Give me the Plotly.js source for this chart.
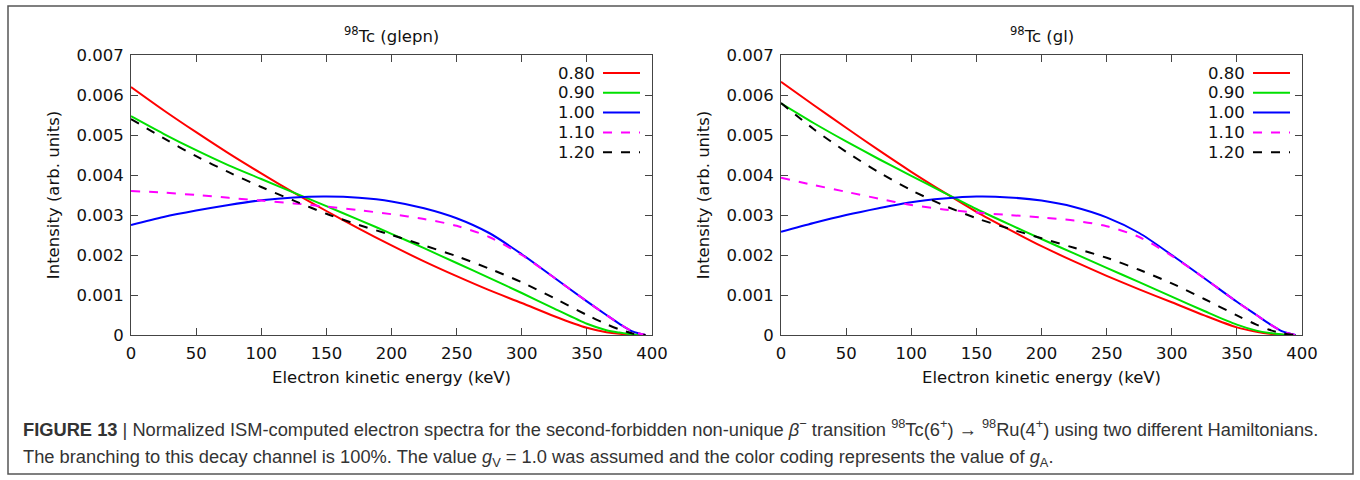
<!DOCTYPE html>
<html>
<head>
<meta charset="utf-8">
<script src="https://cdn.plot.ly/plotly-3.0.1.min.js"></script>
<style>
html,body{margin:0;padding:0;background:#fff;}
#chart{width:1360px;height:480px;}
</style>
</head>
<body>
<div id="chart"></div>
<script>
// ---------------- DATA ----------------
const energy = [0, 25, 50, 75, 100, 125, 150, 175, 200, 225, 250, 275, 300, 325, 350, 365, 375, 385, 395];
const gALabels = ['0.80', '0.90', '1.00', '1.10', '1.20'];

// 98Tc (glepn)
const glepn_080 = [0.00620, 0.00562, 0.00507, 0.00454, 0.00404, 0.00356, 0.00310, 0.00266, 0.00224, 0.00184, 0.00147, 0.00112, 0.00080, 0.00047, 0.00018, 0.00007, 0.00003, 0.000008, 0];
const glepn_090 = [0.00547, 0.00503, 0.00462, 0.00424, 0.00390, 0.00356, 0.00322, 0.00288, 0.00253, 0.00217, 0.00180, 0.00143, 0.00105, 0.00066, 0.00028, 0.00012, 0.00006, 0.000015, 0];
const glepn_100 = [0.00275, 0.00295, 0.00311, 0.00325, 0.00337, 0.00344, 0.00346, 0.00343, 0.00334, 0.00317, 0.00292, 0.00255, 0.00202, 0.00143, 0.00084, 0.00050, 0.00028, 0.00009, 0];
const glepn_110 = [0.00360, 0.00356, 0.00350, 0.00343, 0.00336, 0.00329, 0.00321, 0.00312, 0.00302, 0.00290, 0.00273, 0.00245, 0.00200, 0.00143, 0.00084, 0.00050, 0.00028, 0.00009, 0];
const glepn_120 = [0.00540, 0.00492, 0.00447, 0.00407, 0.00370, 0.00336, 0.00303, 0.00275, 0.00250, 0.00224, 0.00197, 0.00166, 0.00132, 0.00092, 0.00050, 0.00027, 0.00014, 0.00004, 0];

// 98Tc (gl)
const gl_080 = [0.00633, 0.00575, 0.00518, 0.00462, 0.00408, 0.00357, 0.00308, 0.00264, 0.00222, 0.00184, 0.00148, 0.00114, 0.00082, 0.00049, 0.00019, 0.00008, 0.00003, 0.000008, 0];
const gl_090 = [0.00579, 0.00530, 0.00484, 0.00440, 0.00398, 0.00356, 0.00315, 0.00277, 0.00240, 0.00204, 0.00168, 0.00132, 0.00096, 0.00060, 0.00026, 0.00011, 0.00005, 0.000013, 0];
const gl_100 = [0.00258, 0.00280, 0.00300, 0.00317, 0.00332, 0.00341, 0.00346, 0.00344, 0.00336, 0.00320, 0.00294, 0.00255, 0.00200, 0.00142, 0.00083, 0.00050, 0.00028, 0.00009, 0];
const gl_110 = [0.00393, 0.00375, 0.00358, 0.00341, 0.00325, 0.00314, 0.00306, 0.00300, 0.00294, 0.00286, 0.00272, 0.00245, 0.00198, 0.00142, 0.00083, 0.00050, 0.00028, 0.00009, 0];
const gl_120 = [0.00580, 0.00515, 0.00458, 0.00407, 0.00362, 0.00324, 0.00292, 0.00266, 0.00242, 0.00218, 0.00193, 0.00163, 0.00129, 0.00090, 0.00049, 0.00026, 0.00013, 0.00004, 0];

const panelTitles = ['<sup>98</sup>Tc (glepn)', '<sup>98</sup>Tc (gl)'];
const xTickVals = [0, 50, 100, 150, 200, 250, 300, 350, 400];
const yTickVals = [0, 0.001, 0.002, 0.003, 0.004, 0.005, 0.006, 0.007];
const yTickText = ['0', '0.001', '0.002', '0.003', '0.004', '0.005', '0.006', '0.007'];

// ---------------- STYLE ----------------
const colors = ['#ff0000', '#00e000', '#0000ff', '#ff00ff', '#000000'];
const dashes = ['solid', 'solid', 'solid', 'dash', 'dash'];
const W = 1360, H = 480;
const px = v => v / W;
const py = v => 1 - v / H;
const panels = [
  {series: [glepn_080, glepn_090, glepn_100, glepn_110, glepn_120], left: 131, right: 652, xa: 'x', ya: 'y'},
  {series: [gl_080, gl_090, gl_100, gl_110, gl_120], left: 781, right: 1302, xa: 'x2', ya: 'y2'}
];
const plotTop = 55, plotBottom = 335;
const tickFont = {family: 'DejaVu Sans, Verdana, sans-serif', size: 16.5, color: '#111'};

const traces = [];
panels.forEach((p, pi) => {
  p.series.forEach((s, i) => {
    traces.push({
      x: energy, y: s, type: 'scatter', mode: 'lines', name: gALabels[i],
      xaxis: p.xa, yaxis: p.ya, showlegend: false,
      line: {color: colors[i], width: 2, dash: dashes[i], shape: 'spline', smoothing: 0.8}
    });
  });
});

function xaxisCfg(p) {
  return {
    domain: [px(p.left), px(p.right)], range: [0, 400],
    tickvals: xTickVals, ticks: 'inside', ticklen: 7, tickcolor: '#444',
    showline: true, linecolor: '#444', linewidth: 1, mirror: 'ticks',
    showgrid: false, zeroline: false, tickfont: tickFont, ticklabelstandoff: 3,
    title: {text: 'Electron kinetic energy (keV)', font: tickFont, standoff: 9},
    fixedrange: true
  };
}
function yaxisCfg(p, anchor) {
  return {
    domain: [py(plotBottom), py(plotTop)], range: [0, 0.007], anchor: anchor,
    tickvals: yTickVals, ticktext: yTickText, ticks: 'inside', ticklen: 7, tickcolor: '#444',
    showline: true, linecolor: '#444', linewidth: 1, mirror: 'ticks',
    showgrid: false, zeroline: false, tickfont: tickFont, ticklabelstandoff: 3,
    title: {text: 'Intensity (arb. units)', font: tickFont, standoff: 12},
    fixedrange: true
  };
}

const annotations = [];
const shapes = [];
panels.forEach((p, pi) => {
  annotations.push({
    text: panelTitles[pi], xref: 'paper', yref: 'paper',
    x: px((p.left + p.right) / 2), y: py(35), xanchor: 'center', yanchor: 'middle',
    showarrow: false, font: tickFont
  });
  gALabels.forEach((lab, i) => {
    const yy = plotTop + 18 + 19.8 * i;
    annotations.push({
      text: lab, xref: 'paper', yref: 'paper', x: px(p.right - 55), y: py(yy),
      xanchor: 'right', yanchor: 'middle', showarrow: false, font: tickFont
    });
    shapes.push({
      type: 'line', xref: 'paper', yref: 'paper',
      x0: px(p.right - 49), x1: px(p.right - 12), y0: py(yy), y1: py(yy),
      line: {color: colors[i], width: 2, dash: dashes[i]}
    });
  });
});

// outer frame
shapes.push({type: 'rect', xref: 'paper', yref: 'paper', x0: px(8), x1: px(1353), y0: py(474), y1: py(6),
  line: {color: '#555', width: 1.5}, fillcolor: 'rgba(0,0,0,0)'});

const capFont = {family: 'Liberation Sans, Arial, Helvetica, sans-serif', size: 18.3, color: '#333'};
annotations.push({
  text: '<b>FIGURE 13</b> | Normalized ISM-computed electron spectra for the second-forbidden non-unique <i>β</i><sup>−</sup> transition <sup>98</sup>Tc(6<sup>+</sup>) → <sup>98</sup>Ru(4<sup>+</sup>) using two different Hamiltonians.',
  xref: 'paper', yref: 'paper', x: px(21), y: py(428), xanchor: 'left', yanchor: 'middle',
  showarrow: false, font: capFont, align: 'left'
});
annotations.push({
  text: 'The branching to this decay channel is 100%. The value <i>g</i><sub>V</sub> = 1.0 was assumed and the color coding represents the value of <i>g</i><sub>A</sub>.',
  xref: 'paper', yref: 'paper', x: px(21), y: py(458), xanchor: 'left', yanchor: 'middle',
  showarrow: false, font: capFont, align: 'left'
});

const layout = {
  width: W, height: H,
  margin: {l: 0, r: 0, t: 0, b: 0},
  paper_bgcolor: '#fff', plot_bgcolor: '#fff',
  showlegend: false,
  xaxis: xaxisCfg(panels[0]),
  yaxis: yaxisCfg(panels[0], 'x'),
  xaxis2: Object.assign(xaxisCfg(panels[1]), {anchor: 'y2'}),
  yaxis2: yaxisCfg(panels[1], 'x2'),
  annotations: annotations,
  shapes: shapes
};
layout.xaxis.anchor = 'y';

Plotly.newPlot('chart', traces, layout, {displayModeBar: false, staticPlot: true});
</script>
</body>
</html>
